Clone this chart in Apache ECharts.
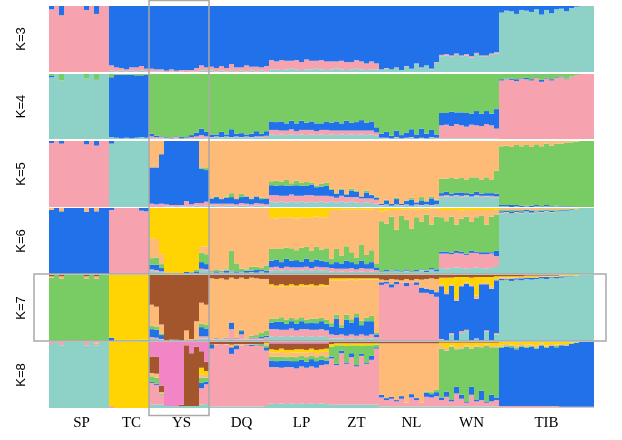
<!DOCTYPE html>
<html><head><meta charset="utf-8">
<script src="https://cdn.jsdelivr.net/npm/echarts@6/dist/echarts.min.js"></script>
<style>html,body{margin:0;padding:0;background:#fff}#c{width:622px;height:440px}</style>
</head><body><div id="c"></div>
<script>
// populations and number of individuals (bars) drawn for each
const groups = ['SP','TC','YS','DQ','LP','ZT','NL','WN','TIB'];
const groupSizes = [12,8,12,12,12,10,12,12,19];
const kLabels = ['K=3','K=4','K=5','K=6','K=7','K=8'];
// ancestry component order (bottom -> top): teal, pink, blue, green, orange, yellow, brown, hotpink
const compColors = ['#8ED2C7','#F6A3AF','#2171EA','#78CC63','#FDBB77','#FFD402','#A3552B','#F185C5'];

// Q matrices, one row per individual, percentages
const q3 = [
 [0,95,5],[0,100,0],[0,86,14],[0,100,0],[0,100,0],[0,100,0],[0,100,0],[0,94,6],[0,100,0],[0,88,12],[0,100,0],[0,100,0],
 [2,8,90],[1,6,93],[2,4,94],[1,3,96],[2,5,93],[1,6,93],[2,7,91],[1,4,95],
 [1,4,95],[1,3,96],[1,3,96],[0,2,98],[1,3,96],[0,2,98],[1,2,97],[0,3,97],[1,2,97],[1,5,94],[2,8,90],[2,5,93],
 [2,6,92],[1,5,94],[2,7,91],[1,5,94],[2,10,88],[1,6,93],[2,5,93],[1,9,90],[2,6,92],[1,7,92],[2,5,93],[1,8,91],
 [4,14,82],[4,12,84],[3,15,82],[4,13,83],[5,12,83],[4,14,82],[3,12,85],[4,15,81],[4,13,83],[5,12,83],[4,14,82],[3,13,84],
 [4,12,84],[5,11,84],[4,13,83],[3,12,85],[4,11,85],[5,13,82],[4,12,84],[3,10,87],[4,12,84],[4,9,87],
 [3,1,96],[5,1,94],[4,0,96],[6,1,93],[3,0,97],[8,1,91],[5,0,95],[12,1,87],[6,1,93],[10,0,90],[4,1,95],[14,1,85],
 [24,2,74],[25,2,73],[23,2,75],[26,2,72],[24,1,75],[25,2,73],[22,2,76],[27,2,71],[24,1,75],[23,2,75],[26,2,72],[28,2,70],
 [90,0,10],[93,0,7],[92,0,8],[88,0,12],[94,0,6],[93,0,7],[91,0,9],[95,0,5],[87,0,13],[94,0,6],[89,0,11],[95,0,5],[96,0,4],[92,0,8],[97,0,3],[99,0,1],[100,0,0],[100,0,0],[100,0,0]
];
const q4 = [
 [95,0,2,3],[100,0,0,0],[90,0,0,10],[100,0,0,0],[100,0,0,0],[100,0,0,0],[100,0,0,0],[93,0,0,7],[100,0,0,0],[91,0,0,9],[100,0,0,0],[100,0,0,0],
 [3,0,92,5],[2,0,97,1],[1,0,98,1],[2,0,97,1],[1,0,98,1],[2,0,96,2],[3,0,95,2],[2,0,97,1],
 [1,3,4,92],[1,2,2,95],[1,2,1,96],[1,1,1,97],[0,1,1,98],[1,2,1,96],[0,1,2,97],[1,1,1,97],[1,2,3,94],[1,3,6,90],[2,4,10,84],[1,3,7,89],
 [2,1,4,93],[3,1,3,93],[2,1,8,89],[3,1,3,93],[2,1,12,85],[3,1,4,92],[2,1,6,91],[3,1,3,93],[2,1,5,92],[3,1,8,88],[2,2,4,92],[3,2,7,88],
 [7,7,13,73],[6,8,12,74],[7,6,14,73],[6,7,11,76],[7,8,13,72],[6,6,12,76],[7,7,14,72],[6,8,11,75],[7,7,13,73],[6,6,12,76],[7,7,10,76],[6,8,13,73],
 [7,6,12,75],[6,7,14,73],[7,6,11,76],[6,7,15,72],[7,6,12,75],[6,7,13,74],[7,6,16,71],[6,7,12,75],[7,6,14,73],[5,5,8,82],
 [1,1,6,92],[1,1,9,89],[1,0,4,95],[2,1,10,87],[1,0,5,94],[1,1,8,90],[2,1,12,85],[1,0,6,93],[1,1,14,84],[1,0,7,92],[2,1,11,86],[1,1,5,93],
 [1,20,19,60],[1,21,18,60],[1,19,22,58],[1,22,18,59],[1,20,20,59],[1,18,21,60],[1,21,17,61],[1,20,22,57],[1,19,19,61],[1,22,20,57],[1,20,18,61],[1,15,30,54],
 [0,90,2,8],[0,92,1,7],[0,91,2,7],[0,89,3,8],[0,93,1,6],[0,92,2,6],[0,90,2,8],[0,94,1,5],[0,88,3,9],[0,93,1,6],[0,90,2,8],[0,94,1,5],[0,95,1,4],[0,92,1,7],[0,96,0,4],[0,98,0,2],[0,100,0,0],[0,100,0,0],[0,100,0,0]
];
const q5 = [
 [0,97,3,0,0],[0,100,0,0,0],[0,96,4,0,0],[0,100,0,0,0],[0,100,0,0,0],[0,100,0,0,0],[0,100,0,0,0],[0,95,5,0,0],[0,100,0,0,0],[0,93,7,0,0],[0,100,0,0,0],[0,100,0,0,0],
 [96,0,4,0,0],[100,0,0,0,0],[100,0,0,0,0],[100,0,0,0,0],[100,0,0,0,0],[100,0,0,0,0],[100,0,0,0,0],[100,0,0,0,0],
 [0,5,55,0,40],[0,4,56,0,40],[0,5,75,0,20],[1,3,96,0,0],[1,2,97,0,0],[0,3,97,0,0],[1,2,97,0,0],[1,8,91,0,0],[1,3,96,0,0],[2,4,94,0,0],[1,5,52,2,40],[2,6,48,3,41],
 [2,3,8,0,87],[2,3,10,1,84],[1,4,7,0,88],[2,3,9,2,84],[2,3,10,6,79],[1,3,8,0,88],[2,4,9,5,80],[2,3,11,0,84],[1,3,8,1,87],[2,4,10,0,84],[2,3,7,2,86],[1,3,9,0,87],
 [8,10,15,6,61],[7,11,14,8,60],[8,9,16,5,62],[7,10,15,9,59],[8,11,13,4,64],[7,10,16,7,60],[8,9,15,5,63],[7,11,14,6,62],[8,10,16,3,63],[7,10,13,2,68],[8,9,14,4,65],[7,10,15,5,63],
 [8,8,10,2,72],[7,7,6,1,79],[8,9,9,2,72],[7,8,4,1,80],[8,7,10,3,72],[7,8,8,2,75],[6,7,3,0,84],[7,6,9,3,75],[6,7,5,1,81],[5,6,3,1,85],
 [2,1,2,0,95],[3,1,6,1,89],[2,0,3,0,95],[3,1,8,2,86],[2,1,2,0,95],[3,1,5,1,90],[2,0,9,3,86],[3,1,3,0,93],[2,1,7,5,85],[3,1,4,2,90],[2,1,10,3,84],[3,1,6,1,89],
 [15,2,4,22,57],[16,2,5,20,57],[15,2,3,24,56],[17,1,4,21,57],[15,2,5,22,56],[16,2,3,20,59],[15,1,4,25,55],[16,2,5,22,55],[15,2,3,21,59],[16,1,4,24,55],[15,2,4,20,59],[14,2,4,35,45],
 [1,0,2,89,8],[1,0,2,90,7],[0,0,3,88,9],[1,0,2,91,6],[0,0,2,90,8],[1,0,1,92,6],[0,0,2,89,9],[1,0,2,92,5],[0,0,1,91,8],[1,0,2,93,4],[0,0,1,92,7],[1,0,1,94,4],[0,0,1,95,4],[0,0,1,96,3],[0,0,1,97,2],[0,0,0,99,1],[0,0,0,100,0],[0,0,0,100,0],[0,0,0,100,0]
];
const q6 = [
 [0,0,97,0,3,0],[0,0,100,0,0,0],[0,0,95,0,5,0],[0,0,100,0,0,0],[0,0,100,0,0,0],[0,0,100,0,0,0],[0,0,100,0,0,0],[0,0,94,0,6,0],[0,0,100,0,0,0],[0,0,95,0,5,0],[0,0,100,0,0,0],[0,0,100,0,0,0],
 [0,97,3,0,0,0],[0,100,0,0,0,0],[0,100,0,0,0,0],[0,100,0,0,0,0],[0,100,0,0,0,0],[0,100,0,0,0,0],[0,96,4,0,0,0],[0,95,5,0,0,0],
 [5,2,7,10,30,46],[4,2,8,11,28,47],[3,1,5,6,15,70],[1,0,1,0,0,98],[1,0,0,0,0,99],[1,0,1,0,0,98],[0,0,0,0,0,100],[1,0,2,0,0,97],[1,0,1,1,0,97],[1,0,3,2,0,94],[6,2,10,14,10,58],[5,2,8,15,12,58],
 [3,0,1,0,96,0],[2,0,2,3,93,0],[3,0,1,1,95,0],[2,0,3,2,93,0],[3,1,1,30,65,0],[2,0,2,12,84,0],[3,0,1,4,92,0],[2,0,3,2,93,0],[3,0,2,6,89,0],[2,0,4,5,89,0],[3,1,2,3,91,0],[2,0,3,8,87,0],
 [5,5,10,18,47,15],[6,5,11,16,46,16],[5,4,9,20,48,14],[6,5,12,17,45,15],[5,5,10,19,47,14],[6,4,11,15,48,16],[5,5,9,21,46,14],[6,5,12,18,44,15],[5,4,10,16,50,15],[6,5,11,19,46,13],[5,5,10,17,49,14],[6,4,9,20,47,14],
 [4,5,6,8,74,3],[3,5,10,20,59,3],[4,4,8,12,70,2],[3,5,12,22,56,2],[4,5,9,15,65,2],[3,4,8,10,73,2],[4,5,11,24,54,2],[3,5,7,14,69,2],[4,4,10,18,62,2],[3,3,4,6,84,0],
 [3,0,1,76,15,5],[4,0,2,70,20,4],[3,1,1,82,10,3],[5,0,2,60,30,3],[3,0,1,84,10,2],[4,1,2,75,16,2],[3,0,1,65,30,1],[4,0,2,80,12,2],[5,1,1,72,20,1],[3,0,2,85,8,2],[6,1,2,66,24,1],[4,0,3,80,12,1],
 [9,22,3,52,11,3],[8,23,3,46,17,3],[9,21,2,55,10,3],[10,22,3,40,22,3],[9,22,3,50,12,4],[8,21,2,56,10,3],[9,23,3,44,18,3],[10,22,2,52,11,3],[9,21,3,55,9,3],[8,22,3,42,22,3],[9,22,2,54,10,3],[12,15,8,55,8,2],
 [92,1,2,2,3,0],[93,1,2,1,3,0],[91,1,3,2,3,0],[93,1,2,1,3,0],[92,1,2,2,3,0],[94,1,2,1,2,0],[92,1,3,1,3,0],[94,1,1,1,3,0],[93,1,2,2,2,0],[95,1,1,1,2,0],[93,1,2,2,2,0],[95,0,1,1,3,0],[96,0,1,1,2,0],[96,0,1,1,2,0],[97,0,1,1,1,0],[98,0,0,1,1,0],[100,0,0,0,0,0],[100,0,0,0,0,0],[100,0,0,0,0,0]
];
const q7 = [
 [0,0,0,96,2,0,2],[0,0,0,100,0,0,0],[0,0,0,94,4,0,2],[0,0,0,100,0,0,0],[0,0,0,100,0,0,0],[0,0,0,100,0,0,0],[0,0,0,100,0,0,0],[0,0,0,95,3,0,2],[0,0,0,100,0,0,0],[0,0,0,94,4,0,2],[0,0,0,100,0,0,0],[0,0,0,100,0,0,0],
 [0,0,5,0,0,95,0],[0,0,0,0,0,100,0],[0,0,0,0,0,100,0],[0,0,0,0,0,100,0],[0,0,0,0,0,100,0],[0,0,0,0,0,100,0],[0,0,0,2,0,98,0],[0,0,0,2,0,98,0],
 [3,3,12,5,32,0,45],[3,2,12,5,30,0,48],[2,1,6,2,14,0,75],[1,0,0,0,0,0,99],[1,0,0,0,1,0,98],[1,0,1,0,0,0,98],[1,0,0,0,0,0,99],[1,0,0,0,15,0,84],[1,0,0,0,2,0,97],[1,0,1,0,28,0,70],[4,3,14,5,32,0,42],[4,3,12,6,30,0,45],
 [2,1,0,0,92,0,5],[2,1,1,0,90,0,6],[2,1,0,1,91,0,5],[2,2,1,0,88,0,7],[3,15,10,0,68,0,4],[2,1,1,0,90,0,6],[2,8,5,2,79,0,4],[2,1,0,1,90,0,6],[2,2,1,3,88,0,4],[2,2,1,4,86,0,5],[2,2,2,6,82,0,6],[3,3,2,8,78,0,6],
 [7,11,10,6,49,3,14],[6,12,11,5,48,2,16],[7,10,12,7,47,3,14],[6,11,9,6,50,2,16],[7,12,11,5,48,3,14],[6,10,10,7,49,2,16],[7,11,12,6,47,3,14],[6,12,9,5,51,2,15],[7,10,11,6,49,3,14],[6,11,10,7,48,2,16],[7,11,12,5,48,3,14],[6,10,10,6,51,2,15],
 [4,6,12,5,65,3,5],[4,5,25,6,52,3,5],[4,6,10,4,68,3,5],[3,5,24,8,52,3,5],[4,6,18,5,60,2,5],[3,5,28,6,50,3,5],[4,6,14,7,62,2,5],[3,5,22,5,58,2,5],[4,6,20,8,55,2,5],[3,3,4,3,80,2,5],
 [1,84,4,0,4,0,7],[1,86,3,0,2,0,8],[1,80,5,0,8,0,6],[1,85,4,0,3,0,7],[1,87,0,0,4,0,8],[1,82,5,0,6,0,6],[1,88,0,0,3,0,8],[1,84,4,0,5,0,6],[1,72,8,0,12,0,7],[1,72,6,0,15,0,6],[1,70,7,0,17,0,5],[1,66,7,0,20,0,6],
 [2,1,80,0,3,10,4],[1,0,70,0,5,20,4],[10,2,72,0,2,10,4],[1,0,60,0,4,32,3],[12,3,68,0,2,12,3],[15,2,70,0,2,8,3],[1,0,82,0,3,10,4],[3,1,60,0,5,28,3],[1,0,85,0,2,9,3],[14,2,70,0,3,8,3],[1,0,78,0,4,14,3],[10,2,80,0,2,4,2],
 [92,0,2,0,2,2,2],[93,0,1,0,2,2,2],[91,0,3,0,2,2,2],[93,0,2,0,1,2,2],[92,0,3,0,2,1,2],[94,0,2,0,1,2,1],[93,0,3,0,1,2,1],[94,0,2,0,1,2,1],[95,0,2,0,1,1,1],[94,0,3,0,1,1,1],[96,0,1,0,1,1,1],[95,0,2,0,1,1,1],[96,0,2,0,1,1,0],[97,0,1,0,1,1,0],[98,0,1,0,0,1,0],[99,0,0,0,0,1,0],[100,0,0,0,0,0,0],[100,0,0,0,0,0,0],[100,0,0,0,0,0,0]
];
const q8 = [
 [97,3,0,0,0,0,0,0],[100,0,0,0,0,0,0,0],[95,5,0,0,0,0,0,0],[100,0,0,0,0,0,0,0],[100,0,0,0,0,0,0,0],[100,0,0,0,0,0,0,0],[100,0,0,0,0,0,0,0],[95,5,0,0,0,0,0,0],[100,0,0,0,0,0,0,0],[95,3,0,0,2,0,0,0],[100,0,0,0,0,0,0,0],[100,0,0,0,0,0,0,0],
 [0,3,0,0,0,97,0,0],[0,0,0,0,0,100,0,0],[0,0,0,0,0,100,0,0],[0,0,0,0,0,100,0,0],[0,0,0,0,0,100,0,0],[0,0,0,0,0,100,0,0],[0,0,0,0,0,100,0,0],[0,0,0,0,0,100,0,0],
 [5,33,2,8,5,0,25,22],[5,30,2,9,6,0,26,22],[5,15,0,2,2,0,10,66],[3,0,0,0,0,0,0,97],[3,0,0,0,0,0,0,97],[2,0,0,0,0,0,0,98],[3,0,0,0,0,0,2,95],[3,0,0,0,0,0,92,5],[3,0,0,0,0,0,80,17],[3,0,0,0,0,0,90,7],[5,25,8,8,5,10,25,14],[6,30,4,6,4,6,14,30],
 [2,88,6,0,0,0,4,0],[2,94,0,0,1,0,3,0],[2,95,0,0,0,0,3,0],[2,94,0,0,1,0,3,0],[2,80,10,0,4,0,4,0],[2,87,6,0,2,0,3,0],[2,93,0,0,2,0,3,0],[2,93,1,0,1,0,3,0],[2,92,2,0,1,0,3,0],[2,93,1,1,0,0,3,0],[2,92,1,2,0,0,3,0],[3,84,5,3,2,2,1,0],
 [7,55,10,6,6,5,9,2],[6,56,9,7,6,4,10,2],[7,54,11,6,7,5,8,2],[6,56,10,5,6,5,10,2],[7,55,9,7,6,4,10,2],[6,54,11,6,7,5,9,2],[7,56,10,6,5,5,9,2],[6,55,9,7,7,4,10,2],[7,56,11,5,6,5,8,2],[6,55,10,6,6,5,10,2],[7,58,8,6,6,4,9,2],[6,60,6,5,8,5,8,2],
 [5,70,3,15,0,4,3,0],[5,60,2,28,0,3,2,0],[5,78,4,8,0,3,2,0],[5,62,2,25,0,4,2,0],[5,72,6,12,0,3,2,0],[5,58,2,30,0,3,2,0],[5,74,3,12,0,4,2,0],[5,62,2,26,0,3,2,0],[5,68,6,16,0,3,2,0],[5,85,2,4,0,2,2,0],
 [2,14,4,0,78,0,2,0],[2,10,3,0,83,0,2,0],[2,12,3,0,81,0,2,0],[2,8,2,0,86,0,2,0],[2,12,4,0,80,0,2,0],[2,6,0,0,90,0,2,0],[2,14,5,0,77,0,2,0],[2,10,3,0,83,0,2,0],[2,6,0,0,90,0,2,0],[2,15,6,2,73,0,2,0],[2,14,5,3,74,0,2,0],[2,16,6,4,70,0,2,0],
 [2,10,4,74,4,5,1,0],[2,15,8,62,4,8,1,0],[2,8,3,80,2,4,1,0],[2,20,10,57,3,7,1,0],[2,12,6,70,4,5,1,0],[2,6,2,83,2,4,1,0],[2,18,12,58,3,6,1,0],[2,8,3,80,2,4,1,0],[2,10,14,66,2,5,1,0],[2,6,2,84,2,3,1,0],[2,8,10,72,2,5,1,0],[2,10,4,76,2,5,1,0],
 [1,2,88,2,3,4,0,0],[1,2,90,2,2,3,0,0],[1,2,89,2,2,4,0,0],[1,2,86,3,3,5,0,0],[1,2,90,2,2,3,0,0],[1,2,88,2,3,4,0,0],[1,2,90,1,2,4,0,0],[1,2,87,2,3,5,0,0],[1,2,91,2,2,2,0,0],[1,2,88,2,2,5,0,0],[1,2,91,1,2,3,0,0],[1,2,89,2,2,4,0,0],[1,1,93,1,1,3,0,0],[1,1,92,1,2,3,0,0],[1,1,95,1,1,1,0,0],[1,1,97,0,0,1,0,0],[1,1,98,0,0,0,0,0],[1,1,98,0,0,0,0,0],[1,1,98,0,0,0,0,0]
];

const panels = [q3,q4,q5,q6,q7,q8];
const nInd = groupSizes.reduce((a,b)=>a+b,0);
const cats = [];
for (let i=0;i<nInd;i++) cats.push(i);

const PL = 49, BARPX = 5, PW = BARPX * nInd;
const tops = [6,74,141,208,275,342];
const heights = [66,65,66,66,66,66];

const grids=[], xAxes=[], yAxes=[], series=[];
panels.forEach((q,p)=>{
  grids.push({left:PL, width:PW, top:tops[p], height:heights[p], containLabel:false});
  xAxes.push({type:'category', gridIndex:p, data:cats, show:false, boundaryGap:true});
  yAxes.push({type:'value', gridIndex:p, min:0, max:100, show:false});
  const k = q[0].length;
  for (let c=0;c<k;c++){
    series.push({
      type:'bar', xAxisIndex:p, yAxisIndex:p, stack:'k'+p,
      barWidth:BARPX, barCategoryGap:'0%', silent:true, animation:false,
      itemStyle:{color:compColors[c], borderWidth:0},
      data:q.map(r=>r[c])
    });
  }
});

const chart = echarts.init(document.getElementById('c'), null, {renderer:'canvas'});
chart.setOption({backgroundColor:'#ffffff', animation:false, grid:grids, xAxis:xAxes, yAxis:yAxes, series:series});

// labels and annotation boxes positioned from the axis scale
const bw = PW / nInd;
const gfx = [];
let start = 0;
const starts = [];
groups.forEach((g,i)=>{
  starts.push(start);
  const mid = start + (groupSizes[i]-1)/2;
  const x = chart.convertToPixel({xAxisIndex:5}, mid);
  gfx.push({type:'text', x:x, y:423, style:{text:g, font:'15px "Liberation Serif", "Times New Roman", serif', fill:'#000', align:'center', verticalAlign:'middle'}});
  start += groupSizes[i];
});
kLabels.forEach((t,p)=>{
  gfx.push({type:'text', x:21, y:tops[p]+heights[p]/2, rotation:Math.PI/2, style:{text:t, font:'13px "Liberation Sans", Arial, sans-serif', fill:'#000', align:'center', verticalAlign:'middle'}});
});
const ysI = groups.indexOf('YS');
const ysX0 = chart.convertToPixel({xAxisIndex:5}, starts[ysI]) - bw/2;
const ysX1 = chart.convertToPixel({xAxisIndex:5}, starts[ysI]+groupSizes[ysI]-1) + bw/2;
gfx.push({type:'rect', z:100, shape:{x:ysX0, y:0.5, width:ysX1-ysX0, height:415}, style:{fill:'none', stroke:'#A9A9A9', lineWidth:1.5}});
gfx.push({type:'rect', z:100, shape:{x:34, y:tops[4]-1, width:572, height:heights[4]+1}, style:{fill:'none', stroke:'#A9A9A9', lineWidth:1.5}});
chart.setOption({graphic:gfx});
</script>
</body></html>
